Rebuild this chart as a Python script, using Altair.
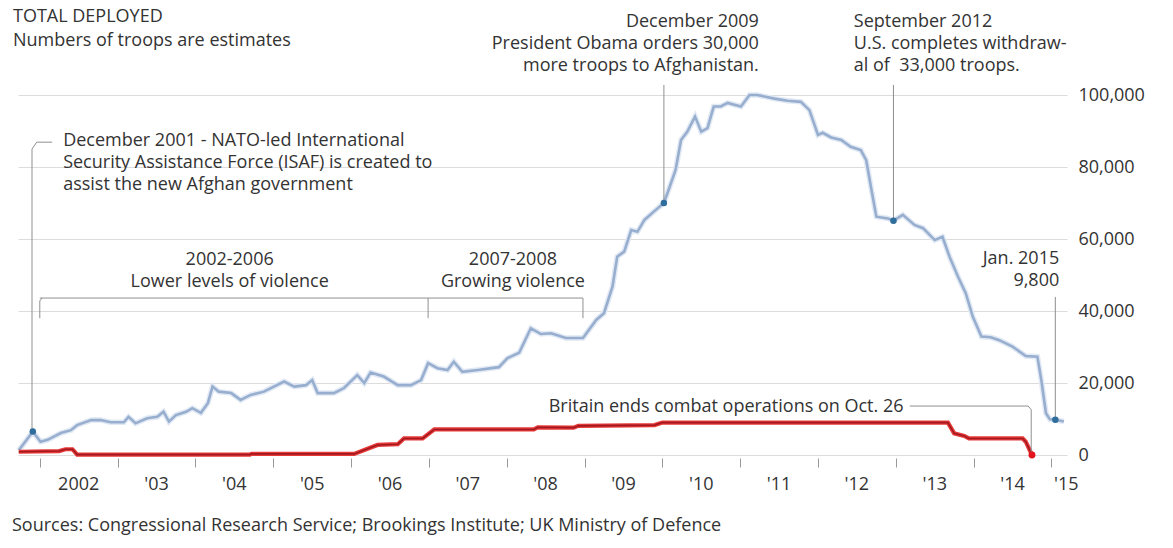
import altair as alt
import pandas as pd

# ---------------- data ----------------
us_year = [
    2001.73, 2001.91, 2002.01, 2002.10, 2002.27, 2002.40, 2002.48, 2002.66, 2002.78, 2002.91,
    2003.08, 2003.14, 2003.23, 2003.38, 2003.51, 2003.59, 2003.66, 2003.75, 2003.88, 2003.96,
    2004.07, 2004.16, 2004.22, 2004.30, 2004.46, 2004.58, 2004.71, 2004.88, 2004.97, 2005.14,
    2005.27, 2005.42, 2005.50, 2005.57, 2005.78, 2005.91, 2006.08, 2006.17, 2006.25, 2006.42,
    2006.60, 2006.77, 2006.90, 2006.99, 2007.11, 2007.24, 2007.32, 2007.43, 2007.63, 2007.90,
    2008.01, 2008.16, 2008.31, 2008.44, 2008.57, 2008.76, 2008.98, 2009.15, 2009.25, 2009.36,
    2009.42, 2009.51, 2009.60, 2009.68, 2009.77, 2009.89, 2010.02, 2010.08, 2010.17, 2010.24,
    2010.32, 2010.42, 2010.50, 2010.58, 2010.66, 2010.75, 2010.84, 2011.01, 2011.12, 2011.22,
    2011.44, 2011.61, 2011.78, 2011.89, 2012.00, 2012.06, 2012.17, 2012.30, 2012.42, 2012.55,
    2012.62, 2012.68, 2012.75, 2012.90, 2012.97, 2013.09, 2013.24, 2013.35, 2013.50, 2013.60,
    2013.69, 2013.80, 2013.90, 2013.99, 2014.10, 2014.22, 2014.33, 2014.50, 2014.67, 2014.82,
    2014.87, 2014.93, 2014.98, 2015.05, 2015.16,
]
us_troops = [
    1300, 6500, 3700, 4200, 6100, 6900, 8300, 9700, 9700, 9100,
    9100, 10600, 8800, 10200, 10600, 12000, 9300, 11100, 12000, 13000,
    11700, 14400, 19000, 17600, 17200, 15300, 16700, 17600, 18600, 20400,
    19000, 19400, 20800, 17200, 17200, 18600, 22200, 20000, 22900, 21800,
    19400, 19400, 20800, 25500, 24100, 23600, 25900, 23100, 23600, 24400,
    26900, 28400, 35200, 33600, 33800, 32500, 32500, 37500, 39400, 46800,
    55100, 56500, 62500, 62000, 65300, 67600, 70000, 73600, 79200, 87500,
    89800, 94000, 89800, 90800, 96800, 96800, 97800, 96800, 100000, 100000,
    99000, 98400, 98100, 95800, 88900, 89500, 88200, 87500, 85600, 84700,
    81900, 74500, 66200, 65700, 65100, 66700, 63900, 63000, 59700, 60600,
    55100, 49500, 44900, 38400, 32900, 32700, 31900, 30100, 27500, 27300,
    20800, 11600, 9900, 9800, 9300,
]

uk_year = [2001.73, 2002.25, 2002.33, 2002.42, 2002.48, 2004.70, 2004.72, 2006.04, 2006.17,
           2006.34, 2006.60, 2006.68, 2006.92, 2007.07, 2008.35, 2008.40, 2008.86, 2008.92,
           2009.90, 2010.00, 2013.67, 2013.75, 2013.88, 2013.94, 2014.63, 2014.67, 2014.75]
uk_troops = [900, 1100, 1600, 1600, 100, 100, 300, 300, 1400,
             2800, 3000, 4600, 4600, 7100, 7100, 7700, 7600, 8100,
             8300, 9000, 9000, 6000, 5300, 4600, 4600, 3700, 0]

# highlighted points
us_dot_year = [2001.91, 2010.02, 2012.97, 2015.05]
us_dot_troops = [6500, 70000, 65100, 9800]
uk_dot_year = [2014.75]
uk_dot_troops = [0]

# axis labels
tick_years = list(range(2002, 2016))
year_labels = ["2002", "'03", "'04", "'05", "'06", "'07", "'08", "'09",
               "'10", "'11", "'12", "'13", "'14", "'15"]
y_ticks = [0, 20000, 40000, 60000, 80000, 100000]

# titles
title_lines = ["TOTAL DEPLOYED", "Numbers of troops are estimates"]
source_line = ["Sources: Congressional Research Service; Brookings Institute; UK Ministry of Defence"]

# annotation texts (anchor year, anchor troops)
left_notes = [
    "December 2001 - NATO-led International\nSecurity Assistance Force (ISAF) is created to\nassist the new Afghan government",
    "September 2012\nU.S. completes withdraw-\nal of\u00a0 33,000 troops.",
    "Britain ends combat operations on Oct. 26",
]
left_year = [2002.30, 2012.46, 2008.54]
left_troops = [85800, 118900, 11900]

center_notes = ["2002-2006\nLower levels of violence", "2007-2008\nGrowing violence"]
center_year = [2004.44, 2008.08]
center_troops = [52800, 52800]

right_notes = ["December 2009\nPresident Obama orders 30,000\nmore troops to Afghanistan.",
               "Jan. 2015\n9,800"]
right_year = [2011.24, 2015.10]
right_troops = [118900, 53000]

# leader lines and brackets: segments (x1, x2, y1, y2)
seg_x1 = [2001.90, 2001.90, 2001.96, 2010.02, 2012.97, 2015.05, 2013.18, 2014.70, 2014.74,
          2002.00, 2002.00, 2006.99, 2008.98, 2002.00]
seg_x2 = [2001.90, 2001.96, 2002.16, 2010.02, 2012.97, 2015.05, 2014.70, 2014.74, 2014.74,
          2008.98, 2002.00, 2006.99, 2008.98, 2002.03]
seg_y1 = [6500, 85000, 86900, 70000, 65100, 9800, 13600, 13600, 12600,
          43600, 38000, 38000, 38000, 42800]
seg_y2 = [85000, 86900, 86900, 102800, 102800, 43900, 13600, 12600, 0,
          43600, 42800, 43600, 43600, 43600]

# ---------------- chart ----------------
FONT = "Open Sans"
TXT = "#333333"
FS = 18

us = pd.DataFrame({"year": us_year, "troops": us_troops})
uk = pd.DataFrame({"year": uk_year, "troops": uk_troops})

xs = alt.Scale(domain=[2001.72, 2015.2], nice=False, zero=False)
ys = alt.Scale(domain=[0, 100000], nice=False)

X = alt.X("year:Q", scale=xs, title=None, axis=alt.Axis(
    values=tick_years, labels=False, ticks=True, tickSize=9, tickColor="#9a9a9a",
    tickWidth=1, domain=False, grid=False, offset=3, title=None))
Y = alt.Y("troops:Q", scale=ys, title=None, axis=alt.Axis(
    orient="right", values=y_ticks, format=",.0f", grid=True, gridColor="#dcdcdc",
    gridWidth=1, domain=False, ticks=False, labelPadding=11, labelFont=FONT,
    labelFontSize=FS, labelColor=TXT, title=None))

us_halo = alt.Chart(us).mark_line(color="#e1e9f4", strokeWidth=5.5).encode(x=X, y=Y)
us_line = alt.Chart(us).mark_line(color="#98aecf", strokeWidth=2.6).encode(x=X, y=Y)
uk_halo = alt.Chart(uk).mark_line(color="#e63a3a", strokeWidth=4.2).encode(x=X, y=Y)
uk_line = alt.Chart(uk).mark_line(color="#a3181e", strokeWidth=1.6).encode(x=X, y=Y)

segs = pd.DataFrame({"year": seg_x1, "year2": seg_x2, "troops": seg_y1, "troops2": seg_y2})
leaders = alt.Chart(segs).mark_rule(color="#8f8f8f", strokeWidth=1).encode(
    x=X, x2="year2:Q", y=Y, y2="troops2:Q")

us_dots = alt.Chart(pd.DataFrame({"year": us_dot_year, "troops": us_dot_troops})).mark_circle(
    color="#2f6d9c", size=42, opacity=1).encode(x=X, y=Y)
uk_dots = alt.Chart(pd.DataFrame({"year": uk_dot_year, "troops": uk_dot_troops})).mark_circle(
    color="#e3141e", size=48, opacity=1).encode(x=X, y=Y)


def notes(texts, years, troops, align):
    df = pd.DataFrame({"year": years, "troops": troops, "note": texts})
    return alt.Chart(df).mark_text(
        align=align, baseline="alphabetic", font=FONT, fontSize=FS, color=TXT,
        lineBreak="\n", lineHeight=22).encode(x=X, y=Y, text="note:N")


left_txt = notes(left_notes, left_year, left_troops, "left")
center_txt = notes(center_notes, center_year, center_troops, "center")
right_txt = notes(right_notes, right_year, right_troops, "right")

lbl = pd.DataFrame({"year": [min(y + 0.5, 2015.19) for y in tick_years], "label": year_labels})
year_txt = alt.Chart(lbl).mark_text(
    align="center", baseline="alphabetic", font=FONT, fontSize=FS, color=TXT).encode(
    x=X, y=alt.value(395), text="label:N")

title_txt = alt.Chart(pd.DataFrame({"t": [title_lines[0]]})).mark_text(
    align="left", baseline="alphabetic", font=FONT, fontSize=FS, color=TXT).encode(
    x=alt.value(-5), y=alt.value(-73), text="t:N")
subtitle_txt = alt.Chart(pd.DataFrame({"t": [title_lines[1]]})).mark_text(
    align="left", baseline="alphabetic", font=FONT, fontSize=FS, color=TXT).encode(
    x=alt.value(-5), y=alt.value(-49), text="t:N")
source = alt.Chart(pd.DataFrame({"s": source_line})).mark_text(
    align="left", baseline="alphabetic", font=FONT, fontSize=FS, color=TXT).encode(
    x=alt.value(-6), y=alt.value(436), text="s:N")

chart = alt.layer(
    us_halo, us_line, uk_halo, uk_line, leaders, us_dots, uk_dots,
    left_txt, center_txt, right_txt, year_txt, title_txt, subtitle_txt, source,
).properties(
    width=1049, height=360,
    autosize=alt.AutoSizeParams(type="none"),
    padding={"left": 18, "top": 95, "right": 106, "bottom": 93},
    background="white",
).configure_view(strokeWidth=0)

chart.save("out.html", embed_options={"renderer": "svg", "actions": False})
